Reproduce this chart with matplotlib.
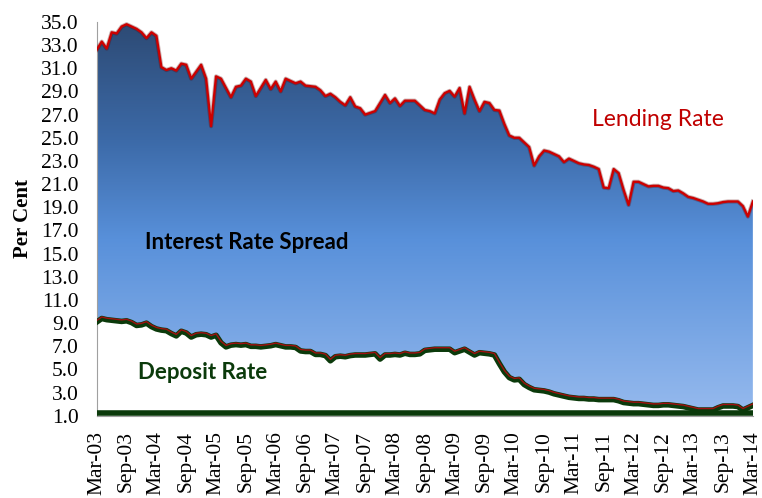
import numpy as np
import matplotlib; matplotlib.use('Agg')
import matplotlib.pyplot as plt
from matplotlib.colors import LinearSegmentedColormap
from matplotlib.patches import PathPatch
from matplotlib.path import Path
import matplotlib.transforms as mtransforms

# monthly data, Mar-03 .. Mar-14 (133 months)
lending = [32.6, 33.3, 32.7, 34.1, 34.0, 34.6, 34.8, 34.6, 34.4, 34.1, 33.6, 34.1, 33.8,
           31.1, 30.85, 31.0, 30.8, 31.4, 31.3, 30.1, 30.7, 31.3, 30.1, 26.0, 30.3, 30.1,
           29.3, 28.5, 29.4, 29.5, 30.1, 29.85, 28.6, 29.3, 30.0, 29.2, 29.85, 29.0, 30.1,
           29.9, 29.7, 29.85, 29.5, 29.45, 29.4, 29.1, 28.6, 28.8, 28.5, 28.1, 27.8, 28.5,
           27.7, 27.55, 27.0, 27.15, 27.3, 28.0, 28.7, 28.0, 28.4, 27.75, 28.2, 28.2, 28.2,
           27.8, 27.4, 27.3, 27.1, 28.3, 28.85, 29.05, 28.55, 29.3, 27.1, 29.4, 28.3, 27.3,
           28.1, 28.0, 27.4, 27.35, 26.2, 25.2, 25.0, 25.0, 24.6, 24.2, 22.6, 23.4, 23.9,
           23.8, 23.6, 23.4, 22.9, 23.2, 23.0, 22.8, 22.7, 22.65, 22.5, 22.3, 20.7, 20.65,
           22.3, 21.95, 20.5, 19.2, 21.2, 21.2, 21.0, 20.8, 20.85, 20.85, 20.7, 20.65, 20.4,
           20.45, 20.2, 19.9, 19.8, 19.65, 19.5, 19.3, 19.3, 19.35, 19.45, 19.5, 19.5, 19.5,
           19.1, 18.2, 19.5]
deposit = [9.1, 9.4, 9.3, 9.25, 9.2, 9.15, 9.2, 9.05, 8.8, 8.85, 9.0, 8.7, 8.5,
           8.4, 8.35, 8.1, 7.9, 8.3, 8.15, 7.8, 8.0, 8.05, 8.0, 7.8, 7.95, 7.3,
           6.95, 7.1, 7.15, 7.1, 7.15, 7.0, 7.0, 6.95, 7.0, 7.05, 7.15, 7.05, 6.95,
           6.95, 6.9, 6.6, 6.55, 6.55, 6.3, 6.3, 6.2, 5.75, 6.1, 6.15, 6.1, 6.2,
           6.25, 6.25, 6.25, 6.3, 6.35, 5.9, 6.25, 6.25, 6.3, 6.25, 6.4, 6.3, 6.3,
           6.35, 6.65, 6.7, 6.75, 6.75, 6.75, 6.75, 6.45, 6.6, 6.75, 6.5, 6.25, 6.45,
           6.4, 6.35, 6.25, 5.5, 4.8, 4.3, 4.1, 4.15, 3.7, 3.45, 3.25, 3.2, 3.15,
           3.05, 2.9, 2.8, 2.7, 2.6, 2.55, 2.5, 2.5, 2.45, 2.45, 2.4, 2.4, 2.4,
           2.4, 2.3, 2.15, 2.1, 2.05, 2.05, 2.0, 1.95, 1.9, 1.9, 1.95, 1.95, 1.9,
           1.85, 1.8, 1.7, 1.6, 1.5, 1.5, 1.5, 1.5, 1.7, 1.85, 1.85, 1.85, 1.8,
           1.5, 1.7, 1.9]
floor_level = 1.25
xlabels = ['Mar-03', 'Sep-03', 'Mar-04', 'Sep-04', 'Mar-05', 'Sep-05', 'Mar-06', 'Sep-06',
           'Mar-07', 'Sep-07', 'Mar-08', 'Sep-08', 'Mar-09', 'Sep-09', 'Mar-10', 'Sep-10',
           'Mar-11', 'Sep-11', 'Mar-12', 'Sep-12', 'Mar-13', 'Sep-13', 'Mar-14']
yticks = np.arange(1.0, 35.1, 2.0)

x = np.arange(len(lending))
lend = np.array(lending); dep = np.array(deposit)

fig = plt.figure(figsize=(7.62, 4.98), dpi=100)
ax = fig.add_axes([0.127, 0.165, 0.861, 0.791])
ax.set_xlim(0, len(x) - 1); ax.set_ylim(1.0, 35.0)

# gradient spread area clipped to polygon between deposit and lending
cmap = LinearSegmentedColormap.from_list('spread', [(0.0, '#2d4a74'), (0.3, '#3c6aa8'),
                                                    (0.55, '#5890da'), (1.0, '#96baee')])
grad = np.linspace(0, 1, 256).reshape(-1, 1)
im = ax.imshow(grad, cmap=cmap, aspect='auto', extent=[0, len(x) - 1, 1.0, 35.0],
               origin='upper', zorder=1)
verts = list(zip(x, lend)) + list(zip(x[::-1], dep[::-1]))
poly = PathPatch(Path(verts + [verts[0]], closed=True), transform=ax.transData,
                 facecolor='none', edgecolor='none')
ax.add_patch(poly)
im.set_clip_path(poly)

# lines
ax.plot(x, lend, color='#5a0000', lw=3.0, alpha=0.3, zorder=3)
ax.plot(x, lend, color='#cc0000', lw=1.7, zorder=4)
ax.plot(x, dep, color='#0b3a0b', lw=4.0, zorder=3)
up = mtransforms.offset_copy(ax.transData, fig=fig, x=0, y=1.5, units='dots')
ax.plot(x, dep, color='#a01010', lw=1.0, zorder=4, transform=up)
ax.axhline(floor_level, color='#0b3a0b', lw=4.0, zorder=3)

ax.set_yticks(yticks)
ax.set_yticklabels([f'{v:.1f}' for v in yticks], fontfamily='Liberation Serif', fontsize=15.5)
ax.set_xticks(np.arange(0, len(x), 6))
ax.set_xticklabels(xlabels, rotation=90, fontfamily='Liberation Serif', fontsize=15.5)
ax.tick_params(axis='y', length=0, pad=13)
ax.tick_params(axis='x', length=0, pad=11)
for s in ['top', 'right']: ax.spines[s].set_visible(False)
ax.spines['left'].set_color('#a0a0a0'); ax.spines['bottom'].set_color('#a0a0a0')
ax.set_ylabel('Per Cent', fontfamily='Liberation Serif', fontsize=15, fontweight='bold', labelpad=6)

ax.text(9.7, 16.0, 'Interest Rate Spread', fontfamily='Lato', fontweight='bold', fontsize=16,
        color='black', va='center', ha='left', zorder=5)
ax.text(99.6, 26.6, 'Lending Rate', fontfamily='Lato', fontsize=16.5, color='#c00000',
        va='center', ha='left', zorder=5)
ax.text(8.3, 4.7, 'Deposit Rate', fontfamily='Lato', fontweight='bold', fontsize=16,
        color='#0b3a0b', va='center', ha='left', zorder=5)

plt.savefig('out.png', dpi=100)
plt.close()
